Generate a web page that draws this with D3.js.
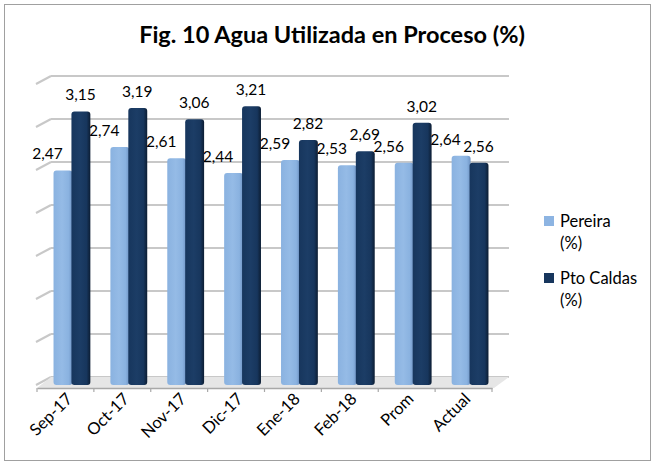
<!DOCTYPE html>
<html>
<head>
<meta charset="utf-8">
<script src="https://cdn.jsdelivr.net/npm/d3@7"></script>
<style>
  body { margin: 0; background: #fff; }
  svg { font-family: Lato, "Noto Sans", sans-serif; }
</style>
</head>
<body>
<div id="chart"></div>
<script>
const categories = ['Sep-17', 'Oct-17', 'Nov-17', 'Dic-17', 'Ene-18', 'Feb-18', 'Prom', 'Actual'];
const pereira = [2.47, 2.74, 2.61, 2.44, 2.59, 2.53, 2.56, 2.64];
const ptoCaldas = [3.15, 3.19, 3.06, 3.21, 2.82, 2.69, 3.02, 2.56];
const seriesNames = ['Pereira', 'Pto Caldas'];
const gridValues = [0, 0.5, 1, 1.5, 2, 2.5, 3, 3.5];

const WIDTH = 655, HEIGHT = 466;
// depth offset of the back wall
const DEPTH_X = 14;
const BAR_SHIFT = 6;

let svg = d3.select('#chart').append('svg')
    .attr('width', WIDTH)
    .attr('height', HEIGHT);

let defs = svg.append('defs');
function barGradient(id, light, mid, dark) {
  let g = defs.append('linearGradient').attr('id', id)
      .attr('x1', '0%').attr('x2', '100%').attr('y1', '0%').attr('y2', '0%');
  g.append('stop').attr('offset', '0%').attr('stop-color', mid);
  g.append('stop').attr('offset', '45%').attr('stop-color', light);
  g.append('stop').attr('offset', '80%').attr('stop-color', mid);
  g.append('stop').attr('offset', '100%').attr('stop-color', dark);
}
barGradient('gLight', '#95bbe6', '#8ab2e0', '#6f94c4');
barGradient('gDark', '#1c3d66', '#17365d', '#0c1d33');

// outer frame
svg.append('rect')
    .attr('x', 4.5).attr('y', 4.5)
    .attr('width', 646).attr('height', 456)
    .attr('fill', '#fff').attr('stroke', '#a0a0a0');

svg.append('text')
    .attr('x', 332).attr('y', 43)
    .attr('text-anchor', 'middle')
    .attr('font-size', 23.5).attr('font-weight', 'bold')
    .text('Fig. 10 Agua Utilizada en Proceso (%)');

let xScale = d3.scaleBand()
    .domain(categories)
    .range([37, 492])
    .paddingInner(0.37)
    .paddingOuter(0.185);

// front plane (bars) and back wall (gridlines)
let yScale = d3.scaleLinear()
    .domain([0, 3.5])
    .range([385, 81]);
let yBack = d3.scaleLinear()
    .domain([0, 3.5])
    .range([377, 76]);

let xBack0 = 37 + DEPTH_X, xBack1 = 492 + DEPTH_X + 3;

// back wall gridlines and side wall ticks
let grid = svg.append('g');
gridValues.forEach(function(v) {
  grid.append('line')
      .attr('x1', xBack0).attr('x2', xBack1)
      .attr('y1', yBack(v)).attr('y2', yBack(v))
      .attr('stroke', '#c8c8c8').attr('stroke-width', 2.2);
  grid.append('line')
      .attr('x1', 36).attr('x2', xBack0)
      .attr('y1', yBack(v) + 8).attr('y2', yBack(v))
      .attr('stroke', '#c8c8c8').attr('stroke-width', 2);
});
// floor
svg.append('path')
    .attr('d', 'M37,' + (yScale(0) + 3) + 'L' + xBack0 + ',' + yBack(0) +
        'L' + xBack1 + ',' + yBack(0) + 'L' + (492 + 2) + ',' + (yScale(0) + 3) + 'Z')
    .attr('fill', '#e6e6e6').attr('stroke', 'none');

// x axis
let axis = svg.append('g')
    .attr('transform', 'translate(0,388)')
    .call(d3.axisBottom(xScale).tickSize(0).tickFormat(''));
axis.select('.domain').attr('stroke', '#a8a8a8').attr('stroke-width', 1.5);
let tickPos = [37].concat(categories.map(function(c) { return xScale(c) + xScale.bandwidth() + xScale.step() * xScale.paddingInner() / 2; }));
tickPos.forEach(function(x) {
  axis.append('line').attr('x1', x).attr('x2', x).attr('y1', 0).attr('y2', 4)
      .attr('stroke', '#a8a8a8').attr('stroke-width', 1.2);
});

svg.append('g').selectAll('text')
    .data(categories)
    .join('text')
    .attr('text-anchor', 'end')
    .attr('font-size', 16.5)
    .attr('transform', function(c) {
      let x = xScale(c) + xScale.bandwidth() / 2 + 8;
      return 'translate(' + x + ',400) rotate(-45)';
    })
    .text(function(c) { return c; });

// bars
let barW = xScale.bandwidth() / 2;
let bars = svg.append('g');
function drawSeries(values, offset, fill, labelDx) {
  bars.selectAll(null)
      .data(values)
      .join('rect')
      .attr('x', function(d, i) { return xScale(categories[i]) + offset + BAR_SHIFT; })
      .attr('y', function(d) { return yScale(d); })
      .attr('width', barW + 1)
      .attr('height', function(d) { return yScale(0) - yScale(d); })
      .attr('rx', 3)
      .attr('fill', fill);
  bars.selectAll(null)
      .data(values)
      .join('text')
      .attr('x', function(d, i) { return xScale(categories[i]) + offset + BAR_SHIFT + barW / 2 + labelDx; })
      .attr('y', function(d) { return yScale(d) - 11; })
      .attr('text-anchor', 'middle')
      .attr('font-size', 15.5)
      .text(function(d) { return d.toFixed(2).replace('.', ','); });
}
drawSeries(pereira, 0, 'url(#gLight)', -15);
drawSeries(ptoCaldas, barW, 'url(#gDark)', 0);

// legend
let legend = svg.append('g').attr('transform', 'translate(544,216)');
[['#8db4e2'], ['#17365d']].forEach(function(s, i) {
  let g = legend.append('g').attr('transform', 'translate(0,' + (i * 57) + ')');
  g.append('rect').attr('x', 0).attr('y', 0).attr('width', 10).attr('height', 10).attr('fill', s[0]);
  g.append('text').attr('x', 16).attr('y', 11).attr('font-size', 16.5).text(seriesNames[i]);
  g.append('text').attr('x', 16).attr('y', 33).attr('font-size', 16.5).text('(%)');
});
</script>
</body>
</html>
